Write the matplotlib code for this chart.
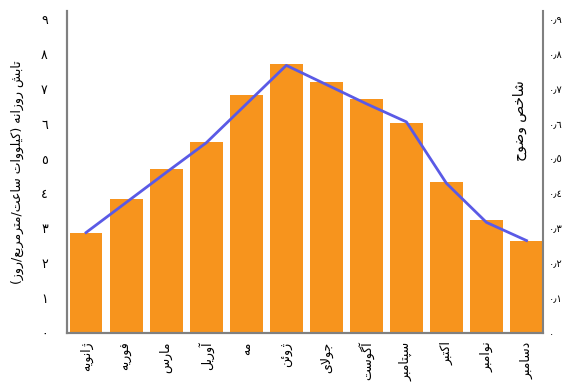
import matplotlib
matplotlib.use('Agg')
import matplotlib.pyplot as plt
import numpy as np

plt.rcParams['font.family'] = ['DejaVu Sans']

months = ['ژانویه', 'فوریه', 'مارس', 'آوریل', 'مه', 'ژوئن',
          'جولای', 'آگوست', 'سپتامبر', 'اکتبر', 'نوامبر', 'دسامبر']
radiation = [2.88, 3.83, 4.70, 5.48, 6.83, 7.72, 7.20, 6.71, 6.02, 4.32, 3.23, 2.65]
clarity = [0.288, 0.374, 0.460, 0.545, 0.656, 0.767, 0.712, 0.657, 0.605, 0.429, 0.317, 0.265]

left_title = 'تابش روزانه (کیلووات ساعت/مترمربع/روز)'
right_title = 'شاخص وضوح'

# arabic-indic digits for the tick labels
ar_digits = '٠١٢٣٤٥٦٧٨٩'
left_ticks = list(range(10))
right_ticks = [i / 10 for i in range(10)]

# presentation forms: isolated, final, initial, medial (None = joins only to the right)
FORMS = {
    'ا': ('\uFE8D', '\uFE8E', None, None),
    'آ': ('\uFE81', '\uFE82', None, None),
    'ب': ('\uFE8F', '\uFE90', '\uFE91', '\uFE92'),
    'پ': ('\uFB56', '\uFB57', '\uFB58', '\uFB59'),
    'ت': ('\uFE95', '\uFE96', '\uFE97', '\uFE98'),
    'ج': ('\uFE9D', '\uFE9E', '\uFE9F', '\uFEA0'),
    'ح': ('\uFEA1', '\uFEA2', '\uFEA3', '\uFEA4'),
    'خ': ('\uFEA5', '\uFEA6', '\uFEA7', '\uFEA8'),
    'د': ('\uFEA9', '\uFEAA', None, None),
    'ر': ('\uFEAD', '\uFEAE', None, None),
    'ز': ('\uFEAF', '\uFEB0', None, None),
    'ژ': ('\uFB8A', '\uFB8B', None, None),
    'س': ('\uFEB1', '\uFEB2', '\uFEB3', '\uFEB4'),
    'ش': ('\uFEB5', '\uFEB6', '\uFEB7', '\uFEB8'),
    'ص': ('\uFEB9', '\uFEBA', '\uFEBB', '\uFEBC'),
    'ض': ('\uFEBD', '\uFEBE', '\uFEBF', '\uFEC0'),
    'ع': ('\uFEC9', '\uFECA', '\uFECB', '\uFECC'),
    'ف': ('\uFED1', '\uFED2', '\uFED3', '\uFED4'),
    'ک': ('\uFB8E', '\uFB8F', '\uFB90', '\uFB91'),
    'گ': ('\uFB92', '\uFB93', '\uFB94', '\uFB95'),
    'ل': ('\uFEDD', '\uFEDE', '\uFEDF', '\uFEE0'),
    'م': ('\uFEE1', '\uFEE2', '\uFEE3', '\uFEE4'),
    'ن': ('\uFEE5', '\uFEE6', '\uFEE7', '\uFEE8'),
    'و': ('\uFEED', '\uFEEE', None, None),
    'ه': ('\uFEE9', '\uFEEA', '\uFEEB', '\uFEEC'),
    'ی': ('\uFBFC', '\uFBFD', '\uFBFE', '\uFBFF'),
    'ئ': ('\uFE89', '\uFE8A', '\uFE8B', '\uFE8C'),
}
LAM_ALEF = {'ا': ('\uFEFB', '\uFEFC'), 'آ': ('\uFEF5', '\uFEF6')}
MIRROR = {'(': ')', ')': '('}


def dual(ch):
    return ch in FORMS and FORMS[ch][2] is not None


def shape(text):
    out = []
    i = 0
    while i < len(text):
        c = text[i]
        prev = text[i - 1] if i > 0 else ''
        nxt = text[i + 1] if i + 1 < len(text) else ''
        if c not in FORMS:
            out.append(MIRROR.get(c, c))
            i += 1
            continue
        join_prev = dual(prev)
        if c == 'ل' and nxt in LAM_ALEF:
            out.append(LAM_ALEF[nxt][1 if join_prev else 0])
            i += 2
            continue
        join_next = dual(c) and nxt in FORMS
        iso, fin, ini, med = FORMS[c]
        if join_prev and join_next:
            out.append(med)
        elif join_prev:
            out.append(fin)
        elif join_next:
            out.append(ini)
        else:
            out.append(iso)
        i += 1
    return ''.join(reversed(out))


def ar_num(v):
    if v == 0:
        return ar_digits[0]
    s = f'{v:.1f}'
    return ''.join(ar_digits[int(ch)] if ch.isdigit() else '\u066B' for ch in s)


fig = plt.figure(figsize=(5.65, 3.9), dpi=100)
ax = fig.add_axes([0.119, 0.146, 0.842, 0.826])
x = np.arange(len(months))
ax.bar(x, radiation, width=0.82, color='#F7941D', zorder=2)
ax.set_xlim(-0.47, 11.41)
ax.set_ylim(0, 9.23)
ax.set_yticks(left_ticks)
ax.set_yticklabels([ar_digits[t] for t in left_ticks], fontsize=9)
ax.set_xticks(x)
ax.set_xticklabels([shape(m) for m in months], rotation=90, fontsize=9, va='top')
ax.tick_params(axis='both', length=0)
ax.tick_params(axis='y', pad=14)
ax.tick_params(axis='x', pad=6)
ax.set_ylabel(shape(left_title), fontsize=9, labelpad=12)

ax2 = ax.twinx()
ax2.plot(x, clarity, color='#5A5AE6', linewidth=2, zorder=3)
ax2.set_ylim(0, 0.923)
ax2.set_yticks(right_ticks)
ax2.set_yticklabels([ar_num(t) for t in right_ticks], fontsize=7)
ax2.tick_params(axis='y', length=0, pad=4)
ax.text(0.952, 0.66, shape(right_title), transform=ax.transAxes, rotation=90,
        ha='center', va='center', fontsize=10)

for a in (ax, ax2):
    a.spines['top'].set_visible(False)
    for side in ('left', 'right', 'bottom'):
        a.spines[side].set_color('#808080')
        a.spines[side].set_linewidth(1.5)
ax.spines['right'].set_visible(False)

fig.savefig('out.png', dpi=100)
